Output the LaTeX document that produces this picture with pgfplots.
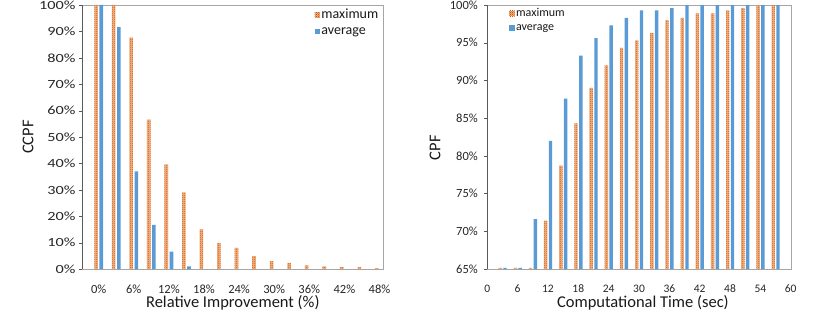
\documentclass[border=0pt]{standalone}
\usepackage{pgfplots}
\pgfplotsset{compat=1.18}
\usepackage{fontspec}
\setmainfont{Carlito}
\usetikzlibrary{patterns}
\definecolor{avgblue}{HTML}{5B9BD5}
\definecolor{maxfill}{HTML}{F4B183}
\definecolor{maxdots}{HTML}{C55A11}
\definecolor{framegray}{HTML}{A6A6A6}
\definecolor{axisdark}{HTML}{595959}
\pgfdeclarepatternformonly{finecheck}{\pgfqpoint{0pt}{0pt}}{\pgfqpoint{2pt}{2pt}}{\pgfqpoint{2pt}{2pt}}{%
  \pgfpathrectangle{\pgfqpoint{0pt}{0pt}}{\pgfqpoint{1pt}{1pt}}%
  \pgfpathrectangle{\pgfqpoint{1pt}{1pt}}{\pgfqpoint{1pt}{1pt}}%
  \pgfusepath{fill}}
\newcommand{\labfont}{\fontsize{16.5}{16.5}\selectfont}
\newcommand{\legfontL}{\fontsize{14}{14}\selectfont}
\newcommand{\legfontR}{\fontsize{12}{12}\selectfont}
\pgfplotsset{
  mystyle/.style={
    scale only axis, height=264pt,
    axis line style={framegray},
    ybar,
    tick align=outside,
    ytick pos=left, xtick pos=bottom,
    major tick length=3pt,
    x tick style={draw=none},
    y tick style={axisdark},
    /pgf/number format/assume math mode=true,
    tick label style={font=\fontsize{12}{12}\selectfont, text=black!85},
    x tick label style={anchor=center, yshift=-17pt},
    legend image code/.code={\fill[##1] (0pt,-2.7pt) rectangle (5.4pt,2.7pt);},
    legend cell align=left,
    extra description/.code={\draw[axisdark] (rel axis cs:0,0) -- (rel axis cs:0,1);},
  },
  maxbar/.style={fill=maxfill, draw=none, postaction={pattern=finecheck, pattern color=maxdots}},
  avgbar/.style={fill=avgblue, draw=none},
}
\begin{document}
\begin{tikzpicture}
\useasboundingbox (0pt,0pt) rectangle (837pt,311pt);
% Left chart
\begin{axis}[mystyle,
  at={(82pt,42pt)}, anchor=south west,
  width=301pt,
  xmin=-2.85, xmax=48.6, ymin=0, ymax=100,
  bar width=3.6pt,
  ytick={0,10,...,100},
  yticklabel={\pgfmathprintnumber{\tick}\%},
  y tick label style={font=\addfontfeature{FakeStretch=1.3}\fontsize{12.5}{12.5}\selectfont},
  x tick label style={font=\fontsize{12.5}{12.5}\selectfont},
  xtick={0,6,...,48},
  xticklabel={\pgfmathprintnumber{\tick}\%},
  xlabel={Relative Improvement (\%)},
  ylabel={CCPF},
  every axis x label/.style={at={(axis description cs:0.501,-0.128)}, anchor=center, font=\labfont, text=black!90},
  every axis y label/.style={at={(axis description cs:-0.179,0.5)}, rotate=90, anchor=center, font=\labfont, text=black!90},
  legend style={at={(0.772,0.99)}, anchor=north west, draw=none, fill=none, inner sep=0pt,
    font=\legfontL, row sep=4pt,
    nodes={inner sep=1.5pt, font=\legfontL, text=black!90}},
]
\addplot[maxbar, bar shift=-2.6pt] coordinates {(0,100)(3,100)(6,87.6)(9,56.6)(12,39.6)(15,29.0)(18,15.0)(21,9.8)(24,8.0)(27,4.9)(30,3.0)(33,2.3)(36,1.4)(39,1.0)(42,0.7)(45,0.7)(48,0.3)};
\addlegendentry{maximum}
\addplot[avgbar, bar shift=2.6pt] coordinates {(0,100)(3,91.6)(6,37.0)(9,16.7)(12,6.6)(15,1.0)};
\addlegendentry{average}
\end{axis}
% Right chart
\begin{axis}[mystyle,
  at={(487.3pt,42pt)}, anchor=south west,
  width=303.4pt,
  xmin=0, xmax=60, ymin=65, ymax=100,
  bar width=3.4pt,
  ytick={65,70,...,100},
  yticklabel={\pgfmathprintnumber{\tick}\%},
  y tick label style={font=\fontsize{12.5}{12.5}\selectfont, xshift=-3pt},
  x tick label style={font=\fontsize{11.5}{11.5}\selectfont},
  xtick={0,6,...,60},
  xlabel={Computational Time (sec)},
  ylabel={CPF},
  every axis x label/.style={at={(axis description cs:0.513,-0.128)}, anchor=center, font=\labfont, text=black!90},
  every axis y label/.style={at={(axis description cs:-0.172,0.46)}, rotate=90, anchor=center, font=\labfont, text=black!90},
  legend style={at={(0.0715,0.993)}, anchor=north west, draw=none, fill=none, inner sep=0pt,
    font=\legfontR, row sep=3pt,
    nodes={inner sep=1.5pt, font=\legfontR, text=black!90}},
]
\addplot[maxbar, bar shift=-2.3pt] coordinates {(3,65.15)(6,65.15)(9,65.15)(12,71.4)(15,78.7)(18,84.3)(21,89.0)(24,92.0)(27,94.3)(30,95.3)(33,96.3)(36,98.0)(39,98.3)(42,98.9)(45,98.9)(48,99.3)(51,99.6)(54,100)(57,100)};
\addlegendentry{maximum}
\addplot[avgbar, bar shift=2.5pt] coordinates {(3,65.15)(6,65.15)(9,71.6)(12,82.0)(15,87.6)(18,93.3)(21,95.6)(24,97.3)(27,98.3)(30,99.3)(33,99.3)(36,99.6)(39,100)(42,100)(45,100)(48,100)(51,100)(54,100)(57,100)};
\addlegendentry{average}
\end{axis}
\end{tikzpicture}
\end{document}
